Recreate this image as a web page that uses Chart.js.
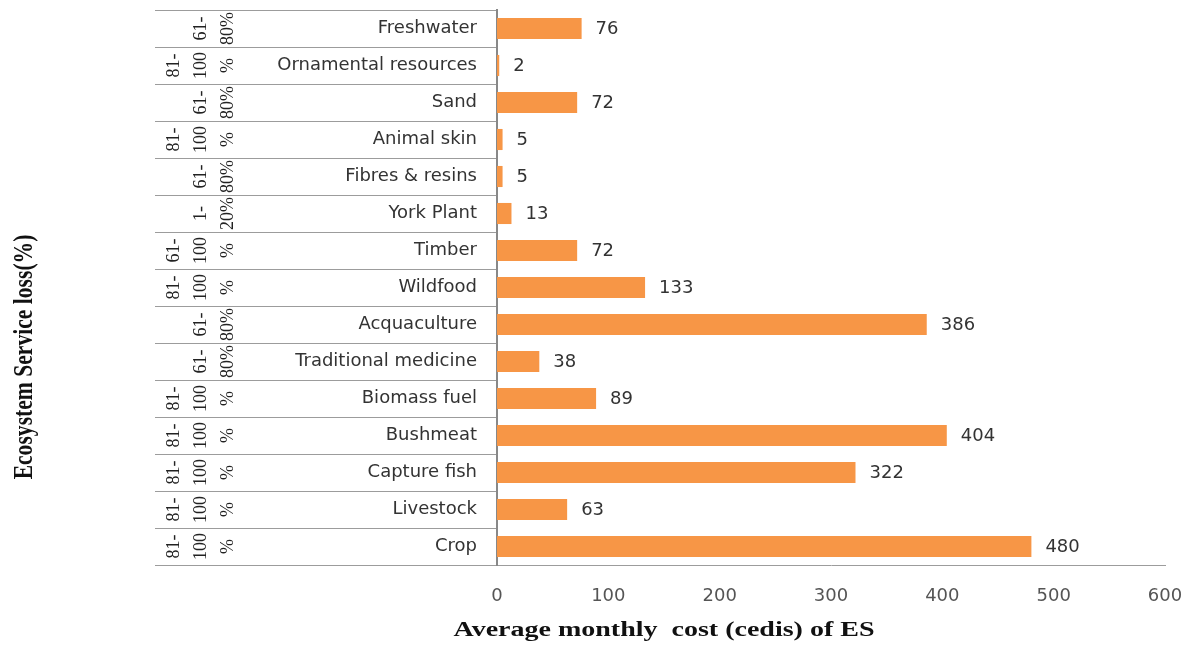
<!DOCTYPE html>
<html>
<head>
<meta charset="utf-8">
<title>Ecosystem service loss and monthly cost</title>
<script src="https://cdn.jsdelivr.net/npm/chart.js@4.4.1/dist/chart.umd.min.js"></script>
<style>
  html, body { margin: 0; padding: 0; background: #fff; }
  #chart_box { width: 1196px; height: 645px; }
</style>
</head>
<body>
<div id="chart_box"><canvas id="chart_here" width="1196" height="645"></canvas></div>
<script>
'use strict';

// services, top row first
var services = ['Freshwater', 'Ornamental resources', 'Sand', 'Animal skin', 'Fibres & resins',
  'York Plant', 'Timber', 'Wildfood', 'Acquaculture', 'Traditional medicine',
  'Biomass fuel', 'Bushmeat', 'Capture fish', 'Livestock', 'Crop'];
// average monthly cost (cedis)
var monthlyCost = [76, 2, 72, 5, 5, 13, 72, 133, 386, 38, 89, 404, 322, 63, 480];
// loss band for each service
var lossBands = ['61-80%', '81-100%', '61-80%', '81-100%', '61-80%',
  '1-20%', '61-100%', '81-100%', '61-80%', '61-80%',
  '81-100%', '81-100%', '81-100%', '81-100%', '81-100%'];
var costTicks = [0, 100, 200, 300, 400, 500, 600];

var xTitle = 'Average monthly  cost (cedis) of ES';
var yTitle = 'Ecosystem Service loss(%)';

var barColor = '#f79646';
var lineColor = '#9c9c9c';

// '81-100%' -> ['81-', '100', '%'], '61-80%' -> ['61-', '80%']
function splitBand(band) {
  var cut = band.indexOf('-') + 1;
  var head = band.slice(0, cut);
  var rest = band.slice(cut);
  if (rest.length > 3) {
    return [head, rest.slice(0, -1), '%'];
  }
  return [head, rest];
}

// text drawn with a horizontal stretch along its own direction
function drawStretched(ctx, text, x, y, angle, font, stretch) {
  ctx.save();
  ctx.translate(x, y);
  ctx.rotate(angle);
  ctx.scale(stretch, 1);
  ctx.font = font;
  ctx.fillStyle = '#111';
  ctx.textAlign = 'center';
  ctx.textBaseline = 'middle';
  ctx.fillText(text, 0, 0);
  ctx.restore();
}

var tableExtras = {
  id: 'tableExtras',
  afterDatasetsDraw: function(chart) {
    var ctx = chart.ctx;
    var yScale = chart.scales.y;
    var bars = chart.getDatasetMeta(0).data;

    // value next to each bar
    ctx.save();
    ctx.font = '18px "DejaVu Sans"';
    ctx.fillStyle = '#333';
    ctx.textAlign = 'left';
    ctx.textBaseline = 'middle';
    for (var i = 0; i < bars.length; i++) {
      ctx.fillText(String(monthlyCost[i]), bars[i].x + 14, bars[i].y + 1);
    }
    ctx.restore();

    // rotated loss band, one column per piece, right-aligned to the last column
    ctx.save();
    ctx.font = '18px "Liberation Serif"';
    ctx.fillStyle = '#222';
    ctx.textAlign = 'center';
    ctx.textBaseline = 'middle';
    var lastCol = yScale.left + 218;
    for (var r = 0; r < lossBands.length; r++) {
      var parts = splitBand(lossBands[r]);
      var cy = yScale.getPixelForValue(r);
      for (var p = 0; p < parts.length; p++) {
        var cx = lastCol - (parts.length - 1 - p) * 27;
        ctx.save();
        ctx.translate(cx, cy);
        ctx.rotate(-Math.PI / 2);
        ctx.fillText(parts[p], 0, 0);
        ctx.restore();
      }
    }
    ctx.restore();

    // axis titles
    drawStretched(ctx, yTitle, 25, 357, -Math.PI / 2, 'bold 27px "Liberation Serif"', 0.8);
    drawStretched(ctx, xTitle, 664, 631, 0, 'bold 20px "Liberation Serif"', 1.4);
  }
};

var ctx = document.getElementById('chart_here').getContext('2d');
var costChart = new Chart(ctx, {
  type: 'bar',
  data: {
    labels: services,
    datasets: [{
      label: 'Average monthly cost',
      data: monthlyCost,
      backgroundColor: barColor,
      borderWidth: 0,
      barPercentage: 0.57,
      categoryPercentage: 1
    }]
  },
  options: {
    indexAxis: 'y',
    responsive: false,
    animation: false,
    devicePixelRatio: 1,
    layout: { padding: { left: 10, top: 10, right: 31, bottom: 0 } },
    plugins: {
      legend: { display: false },
      tooltip: { enabled: false }
    },
    scales: {
      x: {
        min: costTicks[0],
        max: costTicks[costTicks.length - 1],
        afterBuildTicks: function(scale) {
          scale.ticks = costTicks.map(function(v) { return { value: v }; });
        },
        afterFit: function(scale) { scale.height = 80; },
        grid: { display: false },
        border: { display: true, color: lineColor, width: 1 },
        ticks: {
          padding: 13,
          color: '#555',
          font: { family: 'DejaVu Sans', size: 18 }
        }
      },
      y: {
        afterFit: function(scale) { scale.width = 487; },
        grid: {
          display: true,
          offset: true,
          drawOnChartArea: false,
          drawTicks: true,
          tickLength: 342,
          color: lineColor,
          lineWidth: 1
        },
        border: { display: true, color: '#888', width: 2 },
        ticks: {
          autoSkip: false,
          padding: -322,
          color: '#333',
          font: { family: 'DejaVu Sans', size: 18 }
        }
      }
    }
  },
  plugins: [tableExtras]
});
</script>
</body>
</html>
